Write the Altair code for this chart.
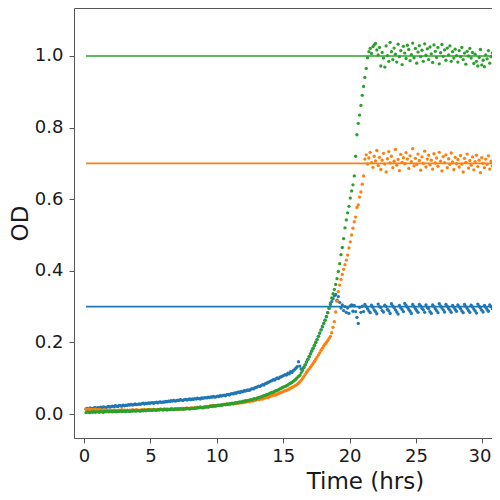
import altair as alt
import pandas as pd

# Sampling grid (hours)
T0 = 0.15
DT = 0.1

# OD readings in thousandths, one value every DT hours starting at T0
blue_mod = [
    14, 16, 15, 17, 16, 15, 17, 18, 16, 18,
    17, 19, 18, 20, 19, 18, 20, 21, 19, 21,
    22, 20, 23, 22, 21, 24, 23, 22, 25, 23,
    25, 24, 26, 25, 27, 25, 26, 28, 26, 27,
    28, 27, 29, 30, 28, 30, 29, 31, 30, 31,
    32, 30, 32, 33, 31, 33, 34, 32, 34, 33,
    35, 34, 36, 35, 37, 36, 38, 36, 37, 39,
    38, 40, 39, 38, 40, 41, 39, 41, 42, 40,
    42, 41, 43, 42, 44, 43, 42, 45, 44, 45,
    46, 45, 47, 46, 48, 47, 49, 47, 48, 50,
    49, 51, 50, 52, 53, 51, 54, 55, 53, 56,
    57, 56, 59, 58, 60, 62, 60, 63, 62, 65,
    64, 66, 67, 66, 69, 71, 70, 73, 74, 76,
    78, 77, 80, 82, 81, 85, 86, 88, 90, 92,
    93, 96, 95, 98, 101, 99, 103, 104, 106, 108,
    110, 109, 114, 112, 118, 116, 121, 124, 128, 132,
    146, 134, 126, 123, 130, 137, 145, 152, 160, 168,
    176, 184, 192, 200, 208, 217, 226, 235, 244, 253,
    262, 272, 283, 295, 306, 314, 322, 330, 334, 318,
    328, 312, 296, 305, 289, 300, 284, 296, 281, 302,
    305, 287, 303, 286, 270, 253, 298, 284, 301, 286,
    306, 300, 294, 288, 283, 304, 298, 291, 286, 280,
    307, 300, 297, 289, 285, 304, 300, 292, 288, 281,
    308, 302, 297, 291, 285, 279, 303, 297, 292, 286,
    309, 303, 298, 292, 287, 281, 306, 300, 294, 289,
    284, 306, 302, 295, 291, 284, 305, 297, 294, 286,
    281, 305, 300, 294, 289, 283, 308, 302, 296, 291,
    285, 306, 301, 295, 290, 284, 303, 298, 292, 287,
    305, 299, 294, 288, 283, 306, 300, 295, 289, 284,
    304, 299, 293, 288, 282, 307, 301, 296, 290, 285,
    303, 298, 292, 287, 305, 300, 294, 289, 283, 302,
    297, 291,
]

orange_mod = [
    13, 12, 14, 12, 13, 11, 12, 13, 11, 12,
    11, 12, 10, 11, 12, 10, 11, 9, 11, 10,
    10, 9, 11, 10, 9, 11, 10, 12, 10, 11,
    10, 11, 9, 11, 10, 12, 10, 11, 12, 11,
    11, 10, 12, 11, 13, 11, 12, 11, 13, 12,
    12, 13, 12, 11, 13, 12, 14, 13, 12, 14,
    13, 14, 13, 12, 14, 15, 13, 14, 15, 14,
    15, 14, 16, 15, 14, 16, 17, 15, 16, 17,
    17, 16, 18, 17, 19, 18, 20, 19, 18, 20,
    20, 21, 20, 22, 23, 22, 24, 23, 22, 24,
    25, 24, 26, 25, 27, 26, 28, 27, 26, 28,
    29, 28, 30, 29, 31, 30, 32, 31, 33, 32,
    33, 34, 35, 34, 36, 37, 36, 38, 39, 40,
    40, 41, 43, 42, 44, 45, 47, 46, 48, 50,
    51, 52, 54, 53, 56, 57, 59, 60, 62, 64,
    65, 66, 68, 70, 72, 74, 76, 78, 80, 83,
    86, 90, 94, 99, 104, 110, 116, 121, 126, 131,
    136, 141, 147, 153, 159, 165, 171, 178, 184, 190,
    195, 200, 205, 211, 217, 227, 242, 258, 285, 315,
    342, 360, 376, 390, 404, 417, 430, 444, 464, 481,
    500, 519, 537, 550, 577, 584, 606, 620, 642, 665,
    712, 724, 698, 715, 731, 702, 689, 720, 707, 736,
    694, 717, 683, 709, 728, 698, 676, 713, 733, 701,
    720, 688, 706, 739, 695, 711, 680, 725, 703, 716,
    699, 730, 712, 686, 721, 705, 741, 693, 714, 697,
    726, 708, 681, 718, 700, 734, 690, 712, 723, 696,
    709, 684, 727, 701, 715, 692, 731, 706, 679, 719,
    702, 724, 688, 713, 697, 729, 704, 683, 717, 699,
    711, 690, 722, 698, 676, 714, 703, 726, 687, 708,
    695, 718, 682, 705, 723, 691, 709, 674, 716, 700,
    688, 712, 697, 721, 684, 706, 693, 719, 678, 703,
    696, 669,
]

green_mod = [
    4, 6, 5, 4, 6, 5, 7, 5, 6, 6,
    5, 7, 6, 5, 7, 6, 8, 6, 7, 7,
    6, 8, 7, 6, 8, 7, 9, 7, 8, 8,
    7, 9, 8, 7, 9, 8, 10, 8, 9, 9,
    9, 8, 10, 9, 11, 9, 10, 12, 10, 11,
    10, 12, 11, 10, 12, 11, 13, 12, 11, 13,
    12, 11, 13, 12, 14, 13, 12, 14, 13, 14,
    13, 15, 14, 13, 15, 14, 16, 15, 14, 16,
    16, 15, 17, 16, 18, 17, 19, 18, 17, 19,
    19, 20, 19, 21, 22, 21, 23, 22, 24, 24,
    24, 25, 24, 26, 27, 26, 28, 27, 29, 29,
    30, 29, 31, 32, 31, 33, 34, 33, 35, 36,
    37, 36, 38, 39, 40, 39, 42, 43, 42, 45,
    46, 47, 48, 50, 51, 52, 54, 55, 57, 59,
    60, 61, 63, 65, 66, 68, 70, 72, 74, 76,
    77, 79, 81, 84, 86, 88, 91, 94, 97, 101,
    105, 108, 115, 122, 130, 137, 145, 152, 160, 168,
    176, 184, 192, 200, 208, 217, 226, 235, 244, 253,
    262, 272, 283, 296, 310, 324, 336, 348, 362, 378,
    398, 420, 445, 465, 490, 520, 542, 562, 580, 603,
    623, 640, 665, 720, 780, 812, 835, 862, 890, 915,
    940, 965, 995, 1012, 1021, 1007, 1026, 1031, 1035, 1017,
    1003, 1024, 972, 1010, 994, 969, 1028, 1001, 985, 1038,
    1012, 990, 1022, 1005, 983, 1033, 998, 1015, 976, 1027,
    1008, 993, 1030, 1018, 987, 1004, 1036, 995, 1021, 980,
    1011, 1029, 998, 1016, 985, 1034, 1002, 1020, 990, 1025,
    1006, 982, 1031, 1013, 996, 1024, 978, 1009, 1032, 999,
    1017, 988, 1022, 1003, 1028, 985, 1012, 994, 1019, 1001,
    983, 1015, 998, 1024, 990, 1008, 977, 1013, 1000, 1021,
    994, 1010, 979, 1005, 985, 972, 996, 1018, 975, 988,
    970, 1003, 992, 1015, 980, 998, 1008, 987, 1012, 995,
    990, 1004,
]

series_names = ["target 0.3", "target 0.7", "target 1.0"]
targets = [0.3, 0.7, 1.0]
colors = ["#1f77b4", "#ff7f0e", "#2ca02c"]
x_ticks = [0, 5, 10, 15, 20, 25, 30]
y_ticks = [0.0, 0.2, 0.4, 0.6, 0.8, 1.0]
line_end = 40.0

rows = []
for name, series in zip(series_names, [blue_mod, orange_mod, green_mod]):
    for i, v in enumerate(series):
        rows.append({"series": name, "time": round(T0 + DT * i, 3), "od": v / 1000.0})
points = pd.DataFrame(rows)

lines = pd.DataFrame({
    "series": series_names,
    "target": targets,
    "start": [T0] * len(targets),
    "end": [line_end] * len(targets),
})

xscale = alt.Scale(domain=[-0.753, 30.72], nice=False, zero=False)
yscale = alt.Scale(domain=[-0.067, 1.134], nice=False, zero=False)
color = alt.Color("series:N", scale=alt.Scale(domain=series_names, range=colors), legend=None)

TXT = "#1a1a1a"
SPINE = "#555555"

x_axis = alt.Axis(
    values=x_ticks, format="d", title="Time (hrs)",
    titleX=291, titleY=50, titleBaseline="alphabetic", titleAlign="center",
    labelFontSize=18, titleFontSize=23, tickSize=5, labelPadding=4,
    labelOffset=alt.ExprRef("datum.value == 30 ? -3 : 0"),
    labelFlush=False, labelColor=TXT, titleColor=TXT,
    domainColor=SPINE, tickColor=SPINE, grid=False,
)
top_axis = alt.Axis(
    orient="top", labels=False, ticks=False, title="",
    domainColor=SPINE, grid=False,
)
y_axis = alt.Axis(
    values=y_ticks, format=".1f", title="OD",
    titleX=-47, titleY=215, titleAngle=270, titleBaseline="alphabetic", titleAlign="center",
    labelFontSize=18, titleFontSize=23, tickSize=5, labelPadding=6,
    labelColor=TXT, titleColor=TXT, domainColor=SPINE, tickColor=SPINE, grid=False,
)

rules = alt.Chart(lines).mark_rule(strokeWidth=1.6, clip=True).encode(
    x=alt.X("start:Q", scale=xscale, axis=top_axis),
    x2="end:Q",
    y=alt.Y("target:Q", scale=yscale, axis=y_axis),
    color=color,
)

dots = alt.Chart(points).mark_circle(size=11, opacity=1, clip=True).encode(
    x=alt.X("time:Q", scale=xscale, axis=x_axis),
    y=alt.Y("od:Q", scale=yscale, axis=y_axis),
    color=color,
)

chart = (
    alt.layer(rules, dots)
    .resolve_axis(x="independent")
    .properties(
        width=418, height=430,
        autosize=alt.AutoSizeParams(type="none"),
        padding={"left": 66, "top": 0, "right": 0, "bottom": 54},
        background="white",
    )
    .configure_view(stroke=None)
    .configure_axis(labelFont="DejaVu Sans", titleFont="DejaVu Sans", titleFontWeight="normal")
)

chart.save("out.html", embed_options={"renderer": "svg", "actions": False})
